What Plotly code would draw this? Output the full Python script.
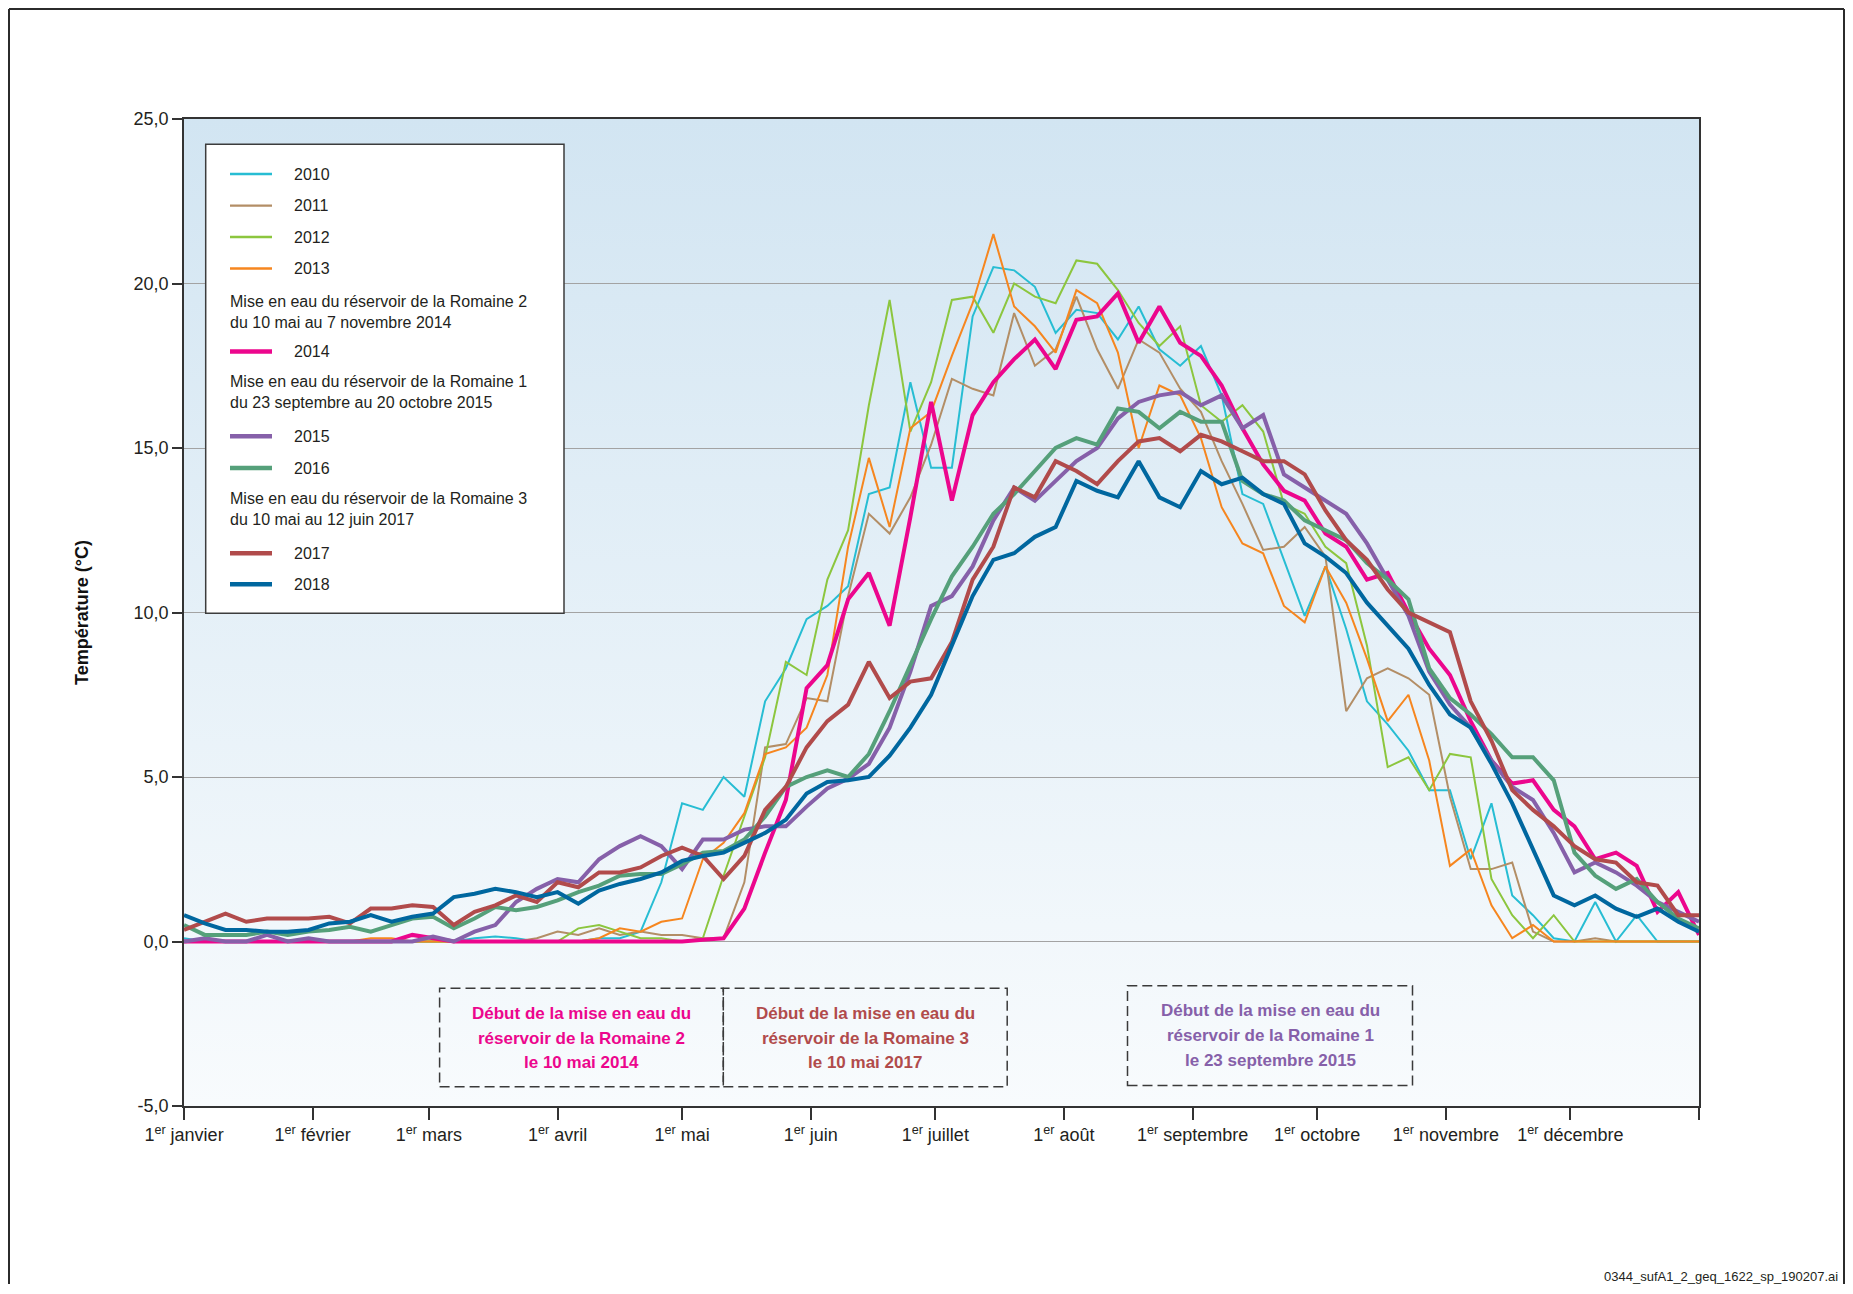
"""Température de l'eau - mise en eau des réservoirs de la Romaine"""
import base64
import plotly.graph_objects as go

# daily curves read every 5 days (day 0 = 1er janvier)
DAYS = list(range(0, 366, 5))

T2010 = [0.1, 0.0, 0.0, 0.0, 0.0, 0.0, 0.0, 0.0, 0.0, 0.0,
         0.0, 0.0, 0.0, 0.0, 0.1, 0.15, 0.1, 0.0, 0.0, 0.0,
         0.1, 0.1, 0.3, 1.8, 4.2, 4.0, 5.0, 4.4, 7.3, 8.3,
         9.8, 10.2, 10.8, 13.6, 13.8, 17.0, 14.4, 14.4, 19.0, 20.5,
         20.4, 19.9, 18.5, 19.2, 19.1, 18.3, 19.3, 18.0, 17.5, 18.1,
         16.6, 13.6, 13.3, 11.6, 9.9, 11.4, 9.5, 7.3, 6.6, 5.8,
         4.6, 4.6, 2.5, 4.2, 1.4, 0.8, 0.1, 0.0, 1.2, 0.0,
         0.8, 0.0, 0.0, 0.0]
T2011 = [0.0, 0.0, 0.0, 0.0, 0.0, 0.0, 0.0, 0.0, 0.0, 0.0,
         0.0, 0.0, 0.0, 0.0, 0.0, 0.0, 0.0, 0.1, 0.3, 0.2,
         0.4, 0.2, 0.3, 0.2, 0.2, 0.1, 0.1, 1.8, 5.9, 6.0,
         7.4, 7.3, 10.5, 13.0, 12.4, 13.5, 15.1, 17.1, 16.8, 16.6,
         19.1, 17.5, 18.0, 19.6, 18.0, 16.8, 18.3, 17.9, 16.8, 16.1,
         14.6, 13.3, 11.9, 12.0, 12.6, 11.7, 7.0, 8.0, 8.3, 8.0,
         7.5, 4.4, 2.2, 2.2, 2.4, 0.3, 0.0, 0.0, 0.1, 0.0,
         0.0, 0.0, 0.0, 0.0]
T2012 = [0.0, 0.0, 0.0, 0.0, 0.0, 0.0, 0.0, 0.0, 0.0, 0.0,
         0.0, 0.0, 0.0, 0.0, 0.0, 0.0, 0.0, 0.0, 0.0, 0.4,
         0.5, 0.3, 0.1, 0.1, 0.0, 0.1, 2.0, 3.8, 5.6, 8.5,
         8.1, 11.0, 12.5, 16.3, 19.5, 15.5, 17.0, 19.5, 19.6, 18.5,
         20.0, 19.6, 19.4, 20.7, 20.6, 19.8, 18.8, 18.1, 18.7, 16.3,
         15.8, 16.3, 15.5, 13.3, 13.0, 12.0, 11.5, 9.0, 5.3, 5.6,
         4.6, 5.7, 5.6, 1.9, 0.8, 0.1, 0.8, 0.0, 0.0, 0.0,
         0.0, 0.0, 0.0, 0.0]
T2013 = [0.0, 0.0, 0.0, 0.0, 0.0, 0.0, 0.0, 0.0, 0.0, 0.1,
         0.1, 0.0, 0.0, 0.0, 0.0, 0.0, 0.0, 0.0, 0.0, 0.0,
         0.1, 0.4, 0.3, 0.6, 0.7, 2.5, 3.0, 3.9, 5.7, 5.9,
         6.5, 8.1, 12.0, 14.7, 12.6, 15.6, 16.1, 17.8, 19.4, 21.5,
         19.3, 18.7, 17.9, 19.8, 19.4, 17.9, 15.0, 16.9, 16.6, 15.3,
         13.2, 12.1, 11.8, 10.2, 9.7, 11.4, 10.3, 8.6, 6.7, 7.5,
         5.5, 2.3, 2.8, 1.1, 0.1, 0.5, 0.0, 0.0, 0.0, 0.0,
         0.0, 0.0, 0.0, 0.0]
T2014 = [0.0, 0.0, 0.0, 0.0, 0.0, 0.0, 0.0, 0.0, 0.0, 0.0,
         0.0, 0.2, 0.1, 0.0, 0.0, 0.0, 0.0, 0.0, 0.0, 0.0,
         0.0, 0.0, 0.0, 0.0, 0.0, 0.05, 0.1, 1.0, 2.7, 4.3,
         7.7, 8.4, 10.4, 11.2, 9.6, 12.9, 16.4, 13.4, 16.0, 17.0,
         17.7, 18.3, 17.4, 18.9, 19.0, 19.7, 18.2, 19.3, 18.2, 17.8,
         16.9, 15.6, 14.5, 13.7, 13.4, 12.4, 12.0, 11.0, 11.2, 10.0,
         8.9, 8.1, 6.7, 5.5, 4.8, 4.9, 4.0, 3.5, 2.5, 2.7,
         2.3, 0.9, 1.5, 0.2]
T2015 = [0.0, 0.1, 0.0, 0.0, 0.2, 0.0, 0.1, 0.0, 0.0, 0.0,
         0.0, 0.0, 0.15, 0.0, 0.3, 0.5, 1.2, 1.6, 1.9, 1.8,
         2.5, 2.9, 3.2, 2.9, 2.2, 3.1, 3.1, 3.4, 3.5, 3.5,
         4.1, 4.65, 4.95, 5.4, 6.5, 8.2, 10.2, 10.5, 11.4, 12.8,
         13.8, 13.4, 14.0, 14.6, 15.0, 15.9, 16.4, 16.6, 16.7, 16.3,
         16.6, 15.6, 16.0, 14.2, 13.8, 13.4, 13.0, 12.1, 11.0, 9.9,
         8.2, 7.2, 6.5, 5.5, 4.7, 4.3, 3.3, 2.1, 2.4, 2.1,
         1.7, 1.2, 0.9, 0.6]
T2016 = [0.5, 0.2, 0.2, 0.2, 0.3, 0.2, 0.3, 0.35, 0.45, 0.3,
         0.5, 0.7, 0.75, 0.4, 0.7, 1.05, 0.95, 1.05, 1.25, 1.5,
         1.7, 2.0, 2.05, 2.05, 2.35, 2.7, 2.75, 3.1, 3.8, 4.7,
         5.0, 5.2, 5.0, 5.7, 7.0, 8.4, 9.8, 11.1, 12.0, 13.0,
         13.6, 14.3, 15.0, 15.3, 15.1, 16.2, 16.1, 15.6, 16.1, 15.8,
         15.8, 14.0, 13.6, 13.4, 12.8, 12.5, 12.2, 11.5, 11.0, 10.4,
         8.3, 7.4, 6.9, 6.3, 5.6, 5.6, 4.9, 2.7, 2.0, 1.6,
         1.9, 1.2, 0.7, 0.4]
T2017 = [0.35, 0.6, 0.85, 0.6, 0.7, 0.7, 0.7, 0.75, 0.55, 1.0,
         1.0, 1.1, 1.05, 0.5, 0.9, 1.1, 1.4, 1.2, 1.8, 1.65,
         2.1, 2.1, 2.25, 2.6, 2.85, 2.6, 1.9, 2.6, 4.0, 4.7,
         5.9, 6.7, 7.2, 8.5, 7.4, 7.9, 8.0, 9.1, 11.0, 12.0,
         13.8, 13.5, 14.6, 14.3, 13.9, 14.6, 15.2, 15.3, 14.9, 15.4,
         15.2, 14.9, 14.6, 14.6, 14.2, 13.1, 12.2, 11.6, 10.7, 10.0,
         9.7, 9.4, 7.3, 6.1, 4.6, 4.0, 3.5, 2.9, 2.5, 2.4,
         1.8, 1.7, 0.8, 0.8]
T2018 = [0.8, 0.55, 0.35, 0.35, 0.3, 0.3, 0.35, 0.55, 0.6, 0.8,
         0.6, 0.75, 0.85, 1.35, 1.45, 1.6, 1.5, 1.35, 1.5, 1.15,
         1.55, 1.75, 1.9, 2.1, 2.45, 2.6, 2.7, 3.0, 3.3, 3.7,
         4.5, 4.85, 4.9, 5.0, 5.65, 6.5, 7.5, 9.0, 10.5, 11.6,
         11.8, 12.3, 12.6, 14.0, 13.7, 13.5, 14.6, 13.5, 13.2, 14.3,
         13.9, 14.1, 13.6, 13.3, 12.1, 11.7, 11.2, 10.3, 9.6, 8.9,
         7.8, 6.9, 6.5, 5.4, 4.2, 2.8, 1.4, 1.1, 1.4, 1.0,
         0.75, 1.0, 0.6, 0.3]

YEARS = ["2010", "2011", "2012", "2013", "2014", "2015", "2016", "2017", "2018"]
SERIES = [T2010, T2011, T2012, T2013, T2014, T2015, T2016, T2017, T2018]
COLORS = ["#27bdd3", "#b38e66", "#8cc63e", "#f6861f", "#ec068d",
          "#8660a9", "#55a07a", "#b14b4b", "#00679f"]
THICK = [False, False, False, False, True, True, True, True, True]

MONTH_DAYS = [0, 31, 59, 90, 120, 151, 181, 212, 243, 273, 304, 334, 365]
MONTH_LABELS = ["1<sup>er</sup> janvier", "1<sup>er</sup> février", "1<sup>er</sup> mars",
                "1<sup>er</sup> avril", "1<sup>er</sup> mai", "1<sup>er</sup> juin",
                "1<sup>er</sup> juillet", "1<sup>er</sup> août", "1<sup>er</sup> septembre",
                "1<sup>er</sup> octobre", "1<sup>er</sup> novembre", "1<sup>er</sup> décembre", ""]
Y_TICKS = [-5, 0, 5, 10, 15, 20, 25]
Y_LABELS = ["-5,0", "0,0", "5,0", "10,0", "15,0", "20,0", "25,0"]

NOTE_R2 = "Mise en eau du réservoir de la Romaine 2<br>du 10 mai au 7 novembre 2014"
NOTE_R1 = "Mise en eau du réservoir de la Romaine 1<br>du 23 septembre au 20 octobre 2015"
NOTE_R3 = "Mise en eau du réservoir de la Romaine 3<br>du 10 mai au 12 juin 2017"
BOX_2014 = ["Début de la mise en eau du", "réservoir de la Romaine 2", "le 10 mai 2014"]
BOX_2017 = ["Début de la mise en eau du", "réservoir de la Romaine 3", "le 10 mai 2017"]
BOX_2015 = ["Début de la mise en eau du", "réservoir de la Romaine 1", "le 23 septembre 2015"]
FILE_TAG = "0344_sufA1_2_geq_1622_sp_190207.ai"

# page geometry: the html body keeps its 8px margin
OFF = 8
FIG_W, FIG_H = 1837, 1278
ML, MT, MR, MB = 176, 111, 146, 180
PW = FIG_W - ML - MR
PH = FIG_H - MT - MB
FONT = "Liberation Sans, Arial, sans-serif"
INK = "#231f20"


def px(x):
    """page x -> paper x"""
    return (x - OFF - ML) / PW


def py(y):
    """page y -> paper y"""
    return 1 - (y - OFF - MT) / PH


fig = go.Figure()
for year, vals, color, thick in zip(YEARS, SERIES, COLORS, THICK):
    fig.add_trace(go.Scatter(x=DAYS, y=vals, mode="lines", name=year,
                             line=dict(color=color, width=4 if thick else 2),
                             showlegend=False, hoverinfo="skip"))

shapes = []
annotations = []

# outer frame (its bottom edge is off the page)
for x0, y0, x1, y1 in [(9, 9, 9, 1284), (9, 9, 1844, 9), (1844, 9, 1844, 1284)]:
    shapes.append(dict(type="line", xref="paper", yref="paper", x0=px(x0), y0=py(y0),
                       x1=px(x1), y1=py(y1), line=dict(color="#2b2b2b", width=2)))

# legend drawn by hand so the notes can sit between the entries
shapes.append(dict(type="rect", xref="paper", yref="paper", x0=px(205.7), x1=px(564),
                   y0=py(613.3), y1=py(144.3), fillcolor="white",
                   line=dict(color="#3c3c3c", width=1.5)))
legend_rows = [("2010", 174.0), ("2011", 205.6), ("2012", 237.0), ("2013", 268.5),
               (NOTE_R2, 311.5), ("2014", 351.5), (NOTE_R1, 391.5),
               ("2015", 436.3), ("2016", 468.0), (NOTE_R3, 509.0),
               ("2017", 553.3), ("2018", 584.3)]
for text, y in legend_rows:
    if text in YEARS:
        i = YEARS.index(text)
        shapes.append(dict(type="line", xref="paper", yref="paper", x0=px(230), x1=px(272),
                           y0=py(y), y1=py(y),
                           line=dict(color=COLORS[i], width=4.5 if THICK[i] else 2.3)))
        annotations.append(dict(text=text, xref="paper", yref="paper", x=px(292), y=py(y),
                                xanchor="left", yanchor="middle", showarrow=False,
                                font=dict(family=FONT, size=16, color=INK)))
    else:
        annotations.append(dict(text=text, xref="paper", yref="paper", x=px(228), y=py(y),
                                xanchor="left", yanchor="middle", align="left", showarrow=False,
                                font=dict(family=FONT, size=16, color=INK)))

# dashed call-out boxes, one annotation per text line
boxes = [(439.6, 723.3, 988.3, 1086.8, BOX_2014, COLORS[4]),
         (723.3, 1007.2, 988.3, 1086.8, BOX_2017, COLORS[7]),
         (1127.5, 1412.5, 985.7, 1085.5, BOX_2015, COLORS[5])]
for x0, x1, y0, y1, lines, color in boxes:
    shapes.append(dict(type="rect", xref="paper", yref="paper", x0=px(x0), x1=px(x1),
                       y0=py(y1), y1=py(y0),
                       line=dict(color="#3a3a3a", width=1.5, dash="10px,5px")))
    for k, line in enumerate(lines):
        annotations.append(dict(text="<b>" + line + "</b>", xref="paper", yref="paper",
                                x=px((x0 + x1) / 2), y=py(y0 + 25 + 24.8 * k),
                                xanchor="center", yanchor="middle", showarrow=False,
                                font=dict(family=FONT, size=17, color=color)))

annotations.append(dict(text=FILE_TAG, xref="paper", yref="paper", x=px(1840), y=py(1286),
                        xanchor="right", yanchor="bottom", showarrow=False,
                        font=dict(family=FONT, size=13, color=INK)))

# plot background: light blue fading to white
grad = ('<svg xmlns="http://www.w3.org/2000/svg" width="4" height="100" viewBox="0 0 4 100" '
        'preserveAspectRatio="none"><defs><linearGradient id="g" x1="0" y1="0" x2="0" y2="1">'
        '<stop offset="0" stop-color="#d2e5f2"/><stop offset="1" stop-color="#f8fbfd"/>'
        '</linearGradient></defs><rect width="4" height="100" fill="url(#g)"/></svg>')
fig.add_layout_image(source="data:image/svg+xml;base64," + base64.b64encode(grad.encode()).decode(),
                     xref="paper", yref="paper", x=0, y=1, sizex=1, sizey=1,
                     xanchor="left", yanchor="top", sizing="stretch", layer="below")

fig.update_xaxes(range=[0, 365], tickvals=MONTH_DAYS, ticktext=MONTH_LABELS,
                 ticks="outside", ticklen=12, tickwidth=1.5, tickcolor="#333333",
                 showgrid=False, zeroline=False, showline=True, linecolor="#333333",
                 linewidth=1.5, mirror=True, automargin=False,
                 tickfont=dict(family=FONT, size=18, color=INK))
fig.update_yaxes(range=[-5, 25], tickvals=Y_TICKS, ticktext=Y_LABELS,
                 ticks="outside", ticklen=10, tickwidth=1.5, tickcolor="#333333",
                 showgrid=True, gridcolor="#a3a3a3", gridwidth=1, zeroline=False,
                 showline=True, linecolor="#333333", linewidth=1.5, mirror=True,
                 automargin=False, tickfont=dict(family=FONT, size=18, color=INK),
                 title=dict(text="<b>Température (°C)</b>", standoff=40,
                            font=dict(family=FONT, size=18, color="#111111")))

fig.update_layout(template="none", width=FIG_W, height=FIG_H,
                  margin=dict(l=ML, r=MR, t=MT, b=MB, autoexpand=False),
                  paper_bgcolor="white", plot_bgcolor="rgba(0,0,0,0)",
                  font=dict(family=FONT, color=INK), showlegend=False,
                  shapes=shapes, annotations=annotations)

fig.write_html("out.html")
